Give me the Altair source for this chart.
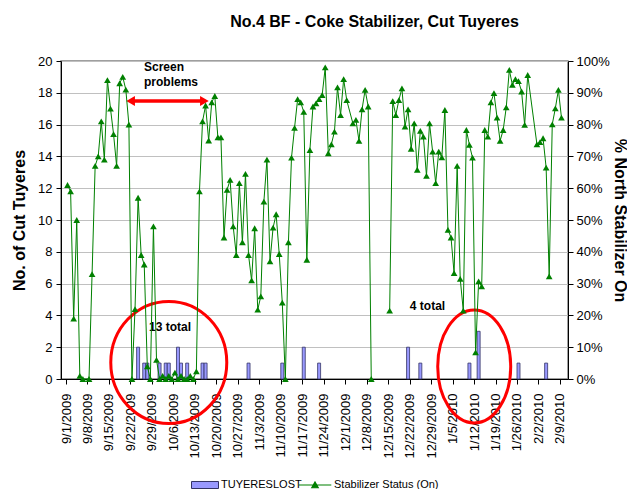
import altair as alt
import pandas as pd

FONT = "Liberation Sans, Arial, sans-serif"

# ---- Stabilizer status (% on) ----
stab_dates = [
    "2009-09-01", "2009-09-02", "2009-09-03", "2009-09-04", "2009-09-05", "2009-09-06",
    "2009-09-08", "2009-09-09", "2009-09-10", "2009-09-11", "2009-09-12", "2009-09-13",
    "2009-09-14", "2009-09-15", "2009-09-16", "2009-09-17", "2009-09-18", "2009-09-19",
    "2009-09-20", "2009-09-21", "2009-09-22", "2009-09-23", "2009-09-24", "2009-09-25",
    "2009-09-26", "2009-09-27", "2009-09-28", "2009-09-29", "2009-09-30",
    "2009-10-01", "2009-10-02", "2009-10-03", "2009-10-04", "2009-10-05", "2009-10-06",
    "2009-10-07", "2009-10-08", "2009-10-09", "2009-10-10", "2009-10-11", "2009-10-12",
    "2009-10-13", "2009-10-14", "2009-10-15", "2009-10-16", "2009-10-17", "2009-10-18",
    "2009-10-19", "2009-10-20", "2009-10-21", "2009-10-22", "2009-10-23", "2009-10-24",
    "2009-10-25", "2009-10-26", "2009-10-27", "2009-10-28", "2009-10-29", "2009-10-30",
    "2009-10-31", "2009-11-01", "2009-11-02", "2009-11-03", "2009-11-04", "2009-11-05",
    "2009-11-06", "2009-11-07", "2009-11-08", "2009-11-09", "2009-11-10", "2009-11-11",
    "2009-11-12", "2009-11-13", "2009-11-14", "2009-11-15", "2009-11-16", "2009-11-17",
    "2009-11-18", "2009-11-19", "2009-11-20", "2009-11-21", "2009-11-22", "2009-11-23",
    "2009-11-24", "2009-11-25", "2009-11-26", "2009-11-27", "2009-11-28", "2009-11-29",
    "2009-11-30", "2009-12-01", "2009-12-03", "2009-12-04", "2009-12-05", "2009-12-06",
    "2009-12-07", "2009-12-08", "2009-12-09",
    "2009-12-15", "2009-12-16", "2009-12-17", "2009-12-18", "2009-12-19", "2009-12-20",
    "2009-12-21", "2009-12-22", "2009-12-23", "2009-12-24", "2009-12-25", "2009-12-26",
    "2009-12-27", "2009-12-28", "2009-12-29", "2009-12-30", "2009-12-31",
    "2010-01-01", "2010-01-02", "2010-01-03", "2010-01-04", "2010-01-05", "2010-01-06",
    "2010-01-07", "2010-01-08", "2010-01-09", "2010-01-10", "2010-01-11", "2010-01-12",
    "2010-01-13", "2010-01-14", "2010-01-15", "2010-01-16", "2010-01-17", "2010-01-18",
    "2010-01-19", "2010-01-20", "2010-01-21", "2010-01-22", "2010-01-23", "2010-01-24",
    "2010-01-25", "2010-01-26", "2010-01-27", "2010-01-28", "2010-01-29",
    "2010-02-01", "2010-02-02", "2010-02-03", "2010-02-04", "2010-02-05", "2010-02-06",
    "2010-02-07", "2010-02-08", "2010-02-09",
]
stab_pct = [
    61, 59, 19, 50, 1, 0,
    0, 33, 67, 70, 81, 69,
    94, 85, 77, 67, 93, 95,
    91, 80, 0, 22, 57, 39,
    36, 4, 0, 48, 6,
    0, 1, 0, 1, 0, 2,
    0, 1, 0, 0, 1, 0,
    2.4, 59, 81, 86, 75, 87,
    89, 76, 76, 44.5, 59.5, 62.6,
    48, 39, 61.6, 43, 64.5, 39,
    31, 47.4, 21.8, 26, 55.8, 69,
    37, 47.6, 51.8, 39.3, 24, 0,
    43, 69.6, 79, 88, 87, 84,
    37.5, 72, 85.7, 86.7, 88, 89.3,
    98, 71, 73.8, 77.8, 91.7, 83,
    94.3, 87.7, 80.4, 81.5, 74.9, 84.8,
    90.9, 85.7, 0,
    21.5, 87.4, 83, 87.7, 91.4, 79.4,
    84.8, 72.4, 80.4, 65.8, 78, 76.2,
    63.9, 80.4, 71.5, 61.6, 71.5,
    69.7, 84.6, 46.9, 44.5, 33.3, 67,
    31.5, 21.5, 78.3, 73.6, 69.6, 8.4,
    30.7, 29.1, 78.3, 76.2, 87, 89.9,
    82.2, 74.9, 78.3, 85.4, 97.2, 92.5,
    94.3, 93.7, 90.4, 79.9, 95.6,
    73.8, 74.5, 75.7, 66.5, 32.3, 80.1,
    85.1, 90.9, 82.2,
]

# ---- Tuyeres lost ----
bar_dates = [
    "2009-09-24", "2009-09-26", "2009-09-27", "2009-10-01", "2009-10-03", "2009-10-04",
    "2009-10-07", "2009-10-08", "2009-10-10", "2009-10-15", "2009-10-16", "2009-10-30",
    "2009-11-10", "2009-11-17", "2009-11-22", "2009-12-21", "2009-12-25", "2010-01-10",
    "2010-01-13", "2010-01-26", "2010-02-04",
]
bar_counts = [2, 1, 1, 1, 1, 1, 2, 1, 1, 1, 1, 1, 1, 2, 1, 2, 1, 1, 3, 1, 1]

week_ticks = [
    "2009-09-01", "2009-09-08", "2009-09-15", "2009-09-22", "2009-09-29", "2009-10-06",
    "2009-10-13", "2009-10-20", "2009-10-27", "2009-11-03", "2009-11-10", "2009-11-17",
    "2009-11-24", "2009-12-01", "2009-12-08", "2009-12-15", "2009-12-22", "2009-12-29",
    "2010-01-05", "2010-01-12", "2010-01-19", "2010-01-26", "2010-02-02", "2010-02-09",
]

SER_BAR = "TUYERESLOST"
SER_LINE = "Stabilizer Status (On)"

# ---- tables ----
stab = pd.DataFrame({"day": pd.to_datetime(stab_dates), "pct": stab_pct})
stab["seg"] = (stab["day"].diff().dt.days > 4).cumsum()
stab["date"] = (stab["day"] + pd.Timedelta(hours=12)).dt.strftime("%Y-%m-%dT%H:%M:%S")
stab["series"] = SER_LINE
stab = stab.drop(columns=["day"])

bars = pd.DataFrame({"day": pd.to_datetime(bar_dates), "count": bar_counts})
bars["date"] = (bars["day"] + pd.Timedelta(hours=12)).dt.strftime("%Y-%m-%dT%H:%M:%S")
bars["series"] = SER_BAR
bars = bars.drop(columns=["day"])

base_day = pd.Timestamp("2009-09-01")


def at(days):
    return (base_day + pd.Timedelta(days=days)).strftime("%Y-%m-%dT%H:%M:%S")


def dt(s):
    t = pd.Timestamp(s)
    return alt.DateTime(year=t.year, month=t.month, date=t.day)


# annotations (in chart data units: days since 9/1/2009, left-axis value)
screen_txt = pd.DataFrame({"date": [at(25.43), at(25.43)], "v": [19.39, 18.43],
                           "label": ["Screen", "problems"]})
total_txt = pd.DataFrame({"date": [at(33.92), at(117.84)], "v": [3.25, 4.59],
                          "label": ["13 total", "4 total"]})
arrow_shaft = pd.DataFrame({"date": [at(21.06)], "date2": [at(45.12)], "v": [17.48]})
arrow_heads = pd.DataFrame({"date": [at(21.06), at(45.12)], "v": [17.48, 17.48],
                            "dir": ["left", "right"]})
ell_left = pd.DataFrame({"date": [at(33.5)], "v": [1.04]})
ell_right = pd.DataFrame({"date": [at(133.06)], "v": [0.79]})


def ellipse_path(ax):
    k = 0.5523
    return (f"M0,-1 C{k*ax:.4f},-1 {ax:.4f},-{k} {ax:.4f},0 "
            f"C{ax:.4f},{k} {k*ax:.4f},1 0,1 "
            f"C-{k*ax:.4f},1 -{ax:.4f},{k} -{ax:.4f},0 "
            f"C-{ax:.4f},-{k} -{k*ax:.4f},-1 0,-1 Z")


# ---- scales & axes ----
x_scale = alt.Scale(domain=[dt("2009-09-01"), dt("2010-02-10")])
x_axis = alt.Axis(values=[dt(s) for s in week_ticks], format="%-m/%-d/%Y",
                  labelAngle=270, labelFontSize=13, labelFont=FONT, labelColor="black",
                  tickColor="black", tickSize=5, labelPadding=9, domainColor="black",
                  grid=False, title=None, labelOverlap=False, labelFlush=False)

left_scale = alt.Scale(domain=[0, 20], nice=False)
left_axis = alt.Axis(values=list(range(0, 21, 2)), grid=True, gridColor="#C0C0C0",
                     labelFontSize=13, labelFont=FONT, labelColor="black",
                     tickColor="black", tickSize=5, labelPadding=4, domainColor="black",
                     title="No. of Cut Tuyeres", titleFont=FONT, titleFontSize=16,
                     titleFontWeight="bold", titleAngle=270, titleX=-42, titleY=159,
                     titleAlign="center", titleBaseline="middle", titleColor="black",
                     labelOverlap=False)

right_scale = alt.Scale(domain=[0, 100], nice=False)
right_axis = alt.Axis(orient="right", values=list(range(0, 101, 10)),
                      labelExpr="datum.value + '%'", grid=False,
                      labelFontSize=13, labelFont=FONT, labelColor="black",
                      tickColor="black", tickSize=5, labelPadding=3, domainColor="black",
                      title="% North Stabilizer On", titleFont=FONT, titleFontSize=16,
                      titleFontWeight="bold", titleAngle=90, titleX=51, titleY=159,
                      titleAlign="center", titleBaseline="middle", titleColor="black",
                      labelOverlap=False)


def X(field="date"):
    return alt.X(f"{field}:T", scale=x_scale, axis=x_axis)


def YL(field="v"):
    return alt.Y(f"{field}:Q", scale=left_scale, axis=left_axis)


def YR(field="pct"):
    return alt.Y(f"{field}:Q", scale=right_scale, axis=right_axis)


bar_layer = alt.Chart(bars).mark_bar(size=3, stroke="#333366", strokeWidth=0.8).encode(
    x=X(), y=YL("count"),
    fill=alt.Fill("series:N", scale=alt.Scale(domain=[SER_BAR], range=["#9999FF"]),
                  legend=alt.Legend(title=None, orient="none", legendX=130, legendY=410,
                                    symbolType="M-1,-0.26L1,-0.26L1,0.26L-1,0.26Z",
                                    symbolSize=729, symbolStrokeColor="#333366",
                                    symbolStrokeWidth=1, labelFont=FONT,
                                    labelFontSize=11, labelColor="black", labelOffset=2)),
)

screen_layer = alt.Chart(screen_txt).mark_text(
    align="left", baseline="alphabetic", font=FONT, fontSize=12, fontWeight="bold",
    color="black").encode(x=X(), y=YL(), text="label:N")

total_layer = alt.Chart(total_txt).mark_text(
    align="center", baseline="middle", font=FONT, fontSize=12, fontWeight="bold",
    color="black").encode(x=X(), y=YL(), text="label:N")

shaft_layer = alt.Chart(arrow_shaft).mark_rule(color="#FF0000", strokeWidth=3.5).encode(
    x=X(), x2="date2:T", y=YL())

heads_layer = alt.Chart(arrow_heads).mark_point(filled=True, size=100, color="#FF0000",
                                                opacity=1).encode(
    x=X(), y=YL(),
    shape=alt.Shape("dir:N", scale=alt.Scale(domain=["left", "right"],
                                             range=["triangle-left", "triangle-right"]),
                    legend=None))

ell_l_layer = alt.Chart(ell_left).mark_point(
    shape=ellipse_path(58 / 61), size=(2 * 61) ** 2, filled=False, stroke="#FF0000",
    strokeWidth=3, opacity=1).encode(x=X(), y=YL())

ell_r_layer = alt.Chart(ell_right).mark_point(
    shape=ellipse_path(36.5 / 56.5), size=(2 * 56.5) ** 2, filled=False, stroke="#FF0000",
    strokeWidth=3, opacity=1).encode(x=X(), y=YL())

left_group = alt.layer(bar_layer, screen_layer, total_layer, shaft_layer, heads_layer,
                       ell_l_layer, ell_r_layer)

line_layer = alt.Chart(stab).mark_line(strokeWidth=1).encode(
    x=X(), y=YR(), detail="seg:N",
    stroke=alt.Stroke("series:N", scale=alt.Scale(domain=[SER_LINE], range=["#008000"]),
                      legend=alt.Legend(title=None, orient="none", legendX=237,
                                        legendY=407,
                                        symbolType="M-1,0L1,0M-0.2,0.17L0,-0.19L0.2,0.17Z",
                                        symbolSize=1063, symbolFillColor="#008000",
                                        symbolStrokeWidth=1.2, labelFont=FONT,
                                        labelFontSize=11, labelColor="black",
                                        labelOffset=2)),
)
point_layer = alt.Chart(stab).mark_point(shape="triangle-up", filled=True, size=45,
                                         color="#008000", opacity=1).encode(x=X(), y=YR())

right_group = alt.layer(line_layer, point_layer)

chart = alt.layer(left_group, right_group).resolve_scale(y="independent").properties(
    width=507, height=318,
    autosize=alt.AutoSizeParams(type="none"),
    padding={"left": 53, "top": 53, "right": 59, "bottom": 110},
    title=alt.TitleParams("No.4 BF - Coke Stabilizer, Cut Tuyeres", font=FONT,
                          fontSize=16, fontWeight="bold", color="black", anchor="middle",
                          offset=25, dx=60),
).configure_view(stroke="#808080", strokeWidth=1.5)

chart.save("out.html", embed_options={"renderer": "svg", "actions": False})
